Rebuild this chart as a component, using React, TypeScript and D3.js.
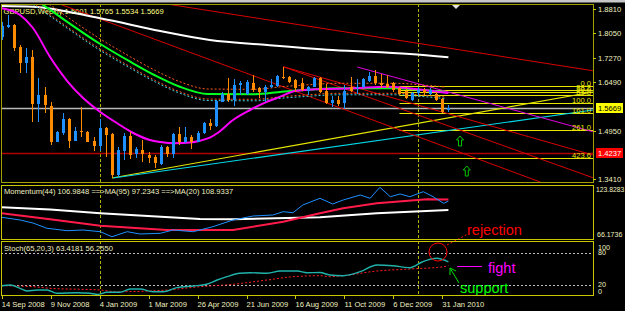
import React from "react";
import * as d3 from "d3";

// ---------- data ----------
const DATE_LABELS = ["14 Sep 2008", "9 Nov 2008", "4 Jan 2009", "1 Mar 2009", "26 Apr 2009", "21 Jun 2009", "16 Aug 2009", "11 Oct 2009", "6 Dec 2009", "31 Jan 2010"];
const DATE_INDEX = [0, 8, 16, 24, 32, 40, 48, 56, 64, 72];
const YEAR_SEPARATORS = [16, 68];

const OPEN = [1.7936, 1.8243, 1.8307, 1.7619, 1.7092, 1.7302, 1.5802, 1.6088, 1.5748, 1.4607, 1.4873, 1.5327, 1.4639, 1.4956, 1.4924, 1.4629, 1.4480, 1.5032, 1.4851, 1.3552, 1.4322, 1.4788, 1.4208, 1.4344, 1.4186, 1.4132, 1.3900, 1.4449, 1.4217, 1.4851, 1.4588, 1.4766, 1.4607, 1.4892, 1.5190, 1.5105, 1.5875, 1.6110, 1.5929, 1.6405, 1.6110, 1.6477, 1.6300, 1.6173, 1.6351, 1.6373, 1.6668, 1.6668, 1.6563, 1.6458, 1.6214, 1.6351, 1.6636, 1.6214, 1.5824, 1.5929, 1.5824, 1.6351, 1.6300, 1.6351, 1.6531, 1.6699, 1.6458, 1.6427, 1.6458, 1.6300, 1.6214, 1.5929, 1.6141, 1.6246, 1.6110, 1.6110, 1.5951, 1.5601];
const HIGH = [1.8402, 1.8624, 1.8338, 1.7673, 1.7587, 1.7514, 1.6636, 1.6351, 1.5856, 1.4946, 1.5517, 1.5349, 1.5083, 1.5698, 1.4946, 1.4747, 1.5327, 1.5083, 1.4873, 1.4449, 1.4873, 1.4924, 1.4449, 1.4661, 1.4290, 1.4186, 1.4503, 1.4471, 1.4873, 1.5073, 1.5064, 1.4820, 1.4946, 1.5232, 1.5327, 1.5929, 1.6173, 1.6636, 1.6595, 1.6531, 1.6563, 1.6722, 1.6351, 1.6405, 1.6595, 1.6722, 1.6985, 1.6699, 1.6595, 1.6617, 1.6382, 1.6668, 1.6668, 1.6427, 1.6065, 1.6065, 1.6405, 1.6668, 1.6595, 1.6617, 1.6826, 1.6880, 1.6744, 1.6722, 1.6509, 1.6351, 1.6300, 1.6192, 1.6341, 1.6309, 1.6309, 1.6183, 1.5992, 1.5765];
const LOW = [1.7831, 1.8211, 1.7492, 1.6785, 1.6785, 1.5241, 1.5241, 1.5517, 1.4503, 1.4582, 1.4820, 1.4417, 1.4629, 1.4766, 1.4588, 1.4322, 1.4322, 1.4132, 1.3447, 1.3498, 1.4027, 1.4059, 1.4081, 1.3973, 1.3922, 1.3773, 1.3869, 1.4122, 1.4081, 1.4503, 1.4566, 1.4376, 1.4588, 1.4851, 1.4978, 1.5073, 1.5866, 1.5875, 1.5748, 1.6088, 1.6088, 1.6173, 1.5983, 1.5875, 1.6300, 1.6351, 1.6595, 1.6458, 1.6192, 1.6214, 1.6088, 1.6332, 1.6141, 1.5793, 1.5717, 1.5748, 1.5644, 1.6173, 1.6110, 1.6300, 1.6490, 1.6405, 1.6300, 1.6300, 1.6192, 1.6088, 1.5961, 1.5897, 1.6056, 1.6088, 1.6088, 1.5897, 1.5526, 1.5534];
const CLOSE = [1.8284, 1.8307, 1.7587, 1.7092, 1.7302, 1.5802, 1.6088, 1.5771, 1.4607, 1.4905, 1.5327, 1.4639, 1.4946, 1.4905, 1.4607, 1.4480, 1.5032, 1.4820, 1.3552, 1.4344, 1.4788, 1.4186, 1.4366, 1.4208, 1.4100, 1.3922, 1.4449, 1.4217, 1.4851, 1.4588, 1.4766, 1.4607, 1.4892, 1.5190, 1.5114, 1.5897, 1.6110, 1.5929, 1.6405, 1.6458, 1.6490, 1.6246, 1.6173, 1.6351, 1.6405, 1.6699, 1.6636, 1.6490, 1.6300, 1.6246, 1.6351, 1.6636, 1.6192, 1.5824, 1.5929, 1.5793, 1.6214, 1.6214, 1.6351, 1.6595, 1.6699, 1.6458, 1.6405, 1.6351, 1.6246, 1.6110, 1.5983, 1.6141, 1.6246, 1.6151, 1.6246, 1.5929, 1.5558, 1.5669];

// moving averages on the price panel: [week index, price]
const MA_WHITE = [[0, 1.8909], [5.1, 1.8887], [16.1, 1.8519], [25.9, 1.8116], [34, 1.7831], [43.4, 1.7673], [54.1, 1.7514], [66.7, 1.7387], [73, 1.7283]];
const MA_MAGENTA = [[0, 1.8836], [3, 1.8624], [5.1, 1.8211], [7.9, 1.7292], [10.7, 1.6531], [13.3, 1.5992], [16.1, 1.5549], [18.8, 1.5200], [21.5, 1.4883], [24.2, 1.4661], [25.9, 1.4598], [28.3, 1.4557], [30.8, 1.4582], [32.4, 1.4639], [34, 1.4734], [35.2, 1.4874], [37.8, 1.5295], [40.6, 1.5612], [43.4, 1.5875], [45.5, 1.6034], [47.9, 1.6214], [51.2, 1.6268], [57.7, 1.6300], [63.1, 1.6351], [66.4, 1.6300], [71.3, 1.6192], [73, 1.6151]];
const MA_GREEN_IDX = [4, 6.3, 16.1, 21, 25.1, 29.1, 33.7, 41.4, 45.8, 49.6, 55, 64.3, 68.7, 72.4];
const MA_GREEN = [1.931, 1.9004, 1.7704, 1.7143, 1.6706, 1.6351, 1.6119, 1.6110, 1.6192, 1.6246, 1.6300, 1.6300, 1.6246, 1.6183];
const ENV_UPPER = [1.947, 1.9163, 1.7863, 1.7302, 1.6865, 1.6510, 1.6278, 1.6269, 1.6351, 1.6405, 1.6459, 1.6459, 1.6405, 1.6342];
const ENV_LOWER = [1.915, 1.8845, 1.7545, 1.6984, 1.6547, 1.6192, 1.5960, 1.5951, 1.6033, 1.6087, 1.6141, 1.6141, 1.6087, 1.6024];
const ENV_CYAN = [1.910, 1.8798, 1.7498, 1.6937, 1.6500, 1.6145, 1.5913, 1.5904, 1.5986, 1.6040, 1.6094, 1.6094, 1.6040, 1.5977];

// trend lines: [[idx, price], [idx, price]]
const TL_YELLOW = [[18.0, 1.3456], [96.6, 1.6183]];
const TL_CYAN = [[18.2, 1.3456], [96.6, 1.5612]];
const TL_RED = [
  [[25.9, 1.9004], [96.6, 1.6858]],
  [[9.0, 1.9004], [88.0, 1.3330]],
  [[46.0, 1.6985], [96.6, 1.3466]],
  [[46.0, 1.6985], [96.6, 1.4186]],
];
const TL_MAGENTA = [[58.1, 1.6975], [96.6, 1.4924]];

const BID = 1.5669;
const RED_LEVEL = 1.4237;
const PRICE_TICKS = [1.8810, 1.8050, 1.7270, 1.6490, 1.4950, 1.3410];

const FIB_START = 65;
const FIB_LABELS = ["0.0", "38.2", "50.0", "61.8", "100.0", "161.0", "261.0", "423.6"];
const FIB_PRICES = [1.6382, 1.6246, 1.6167, 1.6088, 1.5840, 1.5505, 1.4963, 1.4085];

const ARROWS = [[74.9, 1.4788], [76.0, 1.3837]];

// momentum panel
const MOM = [[0, 89.12], [3, 86.13], [5.1, 82.8], [7.4, 76.93], [10.7, 74.27], [13.3, 75.04], [16.1, 73.16], [18, 67.61], [20.5, 73.16], [22.6, 70.61], [25.9, 71.38], [28, 75.04], [31.3, 73.16], [34.5, 78.7], [37.8, 86.13], [41.1, 90.57], [44.3, 91.67], [46, 95.33], [47.6, 94.22], [49.2, 102.76], [52, 110.19], [54.1, 103.87], [55.8, 108.31], [58.6, 113.85], [60.2, 110.19], [61.8, 122.38], [63.5, 111.96], [65.1, 114.96], [66.7, 111.96], [68.9, 117.51], [70.5, 111.96], [72.2, 104.65], [73, 106.98]];
const MOM_MA95 = [[0, 100.21], [7.9, 97.77], [16.1, 93.56], [32.4, 87.24], [37.8, 86.91], [52, 89.12], [61.3, 93.56], [73, 97.23]];
const MOM_MA20 = [[0, 93.56], [7.9, 86.91], [16.1, 79.81], [27, 75.04], [37.8, 75.04], [46, 84.25], [52, 93.56], [55.8, 99.1], [61.3, 104.65], [69.5, 109.08], [73, 108.93]];
const MOM_MIN = 66.1736, MOM_MAX = 123.8283;

// stochastic panel
const STOCH_MAIN = [[0, 18.6], [1.4, 20], [3, 13.7], [4.1, 8.7], [5.8, 10.5], [7.4, 10.5], [9, 4.3], [12.3, 5.5], [14.4, 4.3], [15.7, 2.4], [17.2, 6.2], [19.3, 6.2], [21, 12.4], [22.6, 12.4], [24.7, 7.3], [26.4, 7.3], [28.6, 14.9], [31.3, 18.1], [33.5, 21.3], [35.2, 29.4], [36.8, 35.6], [38.9, 42], [40.6, 43.1], [43.4, 42], [45.5, 46.3], [48.3, 46.3], [49.9, 43.1], [52, 43.5], [53.6, 38.8], [55.8, 37.5], [58.6, 45], [61.3, 57.6], [63.9, 56.3], [66.7, 52.5], [68.8, 63.8], [71.1, 70.2], [73, 63.42]];
const STOCH_SIGNAL = [[0, 18.6], [5.1, 16.8], [7.9, 13.7], [16.1, 10.5], [18.8, 7.3], [24.2, 8.7], [27, 10.5], [32.4, 16.8], [37.8, 21.3], [43.4, 29.4], [47.6, 35.6], [52, 37.5], [53.6, 35.6], [55.8, 37.5], [61.3, 46.3], [66.7, 50.1], [72.2, 54.4], [73, 56.26]];
const STOCH_LEVELS = [80, 20];

const FONT = "'Liberation Sans', Arial, sans-serif";
const FRAME = "#c8c800";
const TXT = "#f0f0c0";

export default function App() {
  const x = d3.scaleLinear().domain([0, 73]).range([1.75, 448.42]);
  const yP = d3.scaleLinear().domain([1.3314, 1.8972]).range([182.5, 4]);
  const yM = d3.scaleLinear().domain([MOM_MIN, MOM_MAX]).range([238, 186]);
  const yS = d3.scaleLinear().domain([0, 100]).range([295.6, 242.5]);

  const lineP = d3.line<number[]>().x((d) => x(d[0])).y((d) => yP(d[1]));
  const smoothP = d3.line<number[]>().x((d) => x(d[0])).y((d) => yP(d[1])).curve(d3.curveMonotoneX);
  const lineM = d3.line<number[]>().x((d) => x(d[0])).y((d) => yM(d[1]));
  const lineS = d3.line<number[]>().x((d) => x(d[0])).y((d) => yS(d[1])).curve(d3.curveMonotoneX);

  const zip = (vals: number[]) => vals.map((v, k) => [MA_GREEN_IDX[k], v]);
  const right = 593.3;

  const candles = OPEN.map((o, i) => {
    const c = CLOSE[i];
    const bull = c >= o;
    const col = bull ? "#1e90ff" : "#ff8c00";
    const cx = Math.round(x(i));
    const top = Math.round(yP(Math.max(o, c)));
    const bot = Math.round(yP(Math.min(o, c)));
    return (
      <g key={i}>
        <line x1={cx + 0.5} x2={cx + 0.5} y1={Math.round(yP(HIGH[i]))} y2={Math.round(yP(LOW[i]))} stroke={col} strokeWidth={1} />
        <rect x={cx - 1} y={top} width={3} height={Math.max(1, bot - top)} fill={col} />
      </g>
    );
  });

  const arrowPath = (cx: number, ty: number) =>
    `M${cx},${ty} L${cx + 3.5},${ty + 4} L${cx + 1.5},${ty + 4} L${cx + 1.5},${ty + 10} L${cx - 1.5},${ty + 10} L${cx - 1.5},${ty + 4} L${cx - 3.5},${ty + 4} Z`;

  return (
    <div style={{ position: "absolute", left: 0, top: 0 }}>
      <svg width={625} height={311} style={{ display: "block", background: "#000" }} fontFamily={FONT}>
        <defs>
          <clipPath id="cMain"><rect x={1.5} y={4.8} width={591.5} height={177.5} /></clipPath>
          <clipPath id="cMom"><rect x={1.5} y={185.5} width={591.5} height={53.5} /></clipPath>
          <clipPath id="cSto"><rect x={1.5} y={241.5} width={591.5} height={54} /></clipPath>
        </defs>
        <rect x={0} y={0} width={625} height={311} fill="#000" />
        <rect x={0} y={0} width={625} height={2.5} fill="#c8c8c8" />

        {/* title */}
        <text x={3.5} y={14} fontSize={7.6} fill="#ffff80">GBPUSD,Weekly  1.5601 1.5765 1.5534 1.5669</text>

        {/* main panel */}
        <g clipPath="url(#cMain)">
          {YEAR_SEPARATORS.map((s) => (
            <line key={s} x1={Math.round(x(s)) + 0.5} x2={Math.round(x(s)) + 0.5} y1={4} y2={183} stroke="#b0b000" strokeDasharray="3,2" />
          ))}
          <line x1={0} x2={right} y1={Math.round(yP(BID)) + 0.5} y2={Math.round(yP(BID)) + 0.5} stroke="#b8b8b8" strokeWidth={1.3} />
          <line x1={0} x2={right} y1={Math.round(yP(RED_LEVEL)) + 0.5} y2={Math.round(yP(RED_LEVEL)) + 0.5} stroke="#b00000" strokeWidth={1.3} />
          {FIB_PRICES.map((p, k) => (
            <line key={k} x1={x(FIB_START)} x2={right} y1={Math.round(yP(p)) + 0.5} y2={Math.round(yP(p)) + 0.5} stroke="#e6e600" strokeWidth={1} />
          ))}
          <path d={lineP(TL_YELLOW) || ""} stroke="#e6e600" strokeWidth={1.2} fill="none" />
          <path d={lineP(TL_CYAN) || ""} stroke="#00d8e8" strokeWidth={1.2} fill="none" />
          {TL_RED.map((t, k) => (
            <path key={k} d={lineP(t) || ""} stroke="#d80000" strokeWidth={1} fill="none" />
          ))}
          <path d={lineP(TL_MAGENTA) || ""} stroke="#e000e0" strokeWidth={1} fill="none" />
          <path d={smoothP(MA_WHITE) || ""} stroke="#ffffff" strokeWidth={2} fill="none" />
          <path d={smoothP(zip(ENV_UPPER)) || ""} stroke="#ff5a1e" strokeWidth={1} strokeDasharray="2,2" fill="none" />
          <path d={smoothP(zip(ENV_LOWER)) || ""} stroke="#ff5a1e" strokeWidth={1} strokeDasharray="2,2" fill="none" />
          <path d={smoothP(zip(ENV_CYAN)) || ""} stroke="#40d0e0" strokeWidth={1} strokeDasharray="2,2" fill="none" />
          <path d={smoothP(zip(MA_GREEN)) || ""} stroke="#00ff20" strokeWidth={2} fill="none" />
          <path d={smoothP(MA_MAGENTA) || ""} stroke="#ff00ff" strokeWidth={2} fill="none" />
          {candles}
          {ARROWS.map((a, k) => (
            <path key={k} d={arrowPath(x(a[0]), yP(a[1]))} stroke="#00c800" strokeWidth={1} fill="none" />
          ))}
          <path d="M452,5 L460,5 L456,9 Z" fill="#e0e0e0" />
        </g>
        {FIB_LABELS.map((l, k) => (
          <text key={k} x={591} y={Math.round(yP(FIB_PRICES[k])) - 0.5} fontSize={7.6} fill="#e6e600" textAnchor="end">{l}</text>
        ))}

        {/* momentum panel */}
        <g clipPath="url(#cMom)">
          {YEAR_SEPARATORS.map((s) => (
            <line key={s} x1={Math.round(x(s)) + 0.5} x2={Math.round(x(s)) + 0.5} y1={185} y2={240} stroke="#b0b000" strokeDasharray="3,2" />
          ))}
          <path d={lineM(MOM_MA95) || ""} stroke="#ffffff" strokeWidth={2} fill="none" />
          <path d={lineM(MOM_MA20) || ""} stroke="#ff1a4a" strokeWidth={2} fill="none" />
          <path d={lineM(MOM) || ""} stroke="#1e90ff" strokeWidth={1} fill="none" />
        </g>
        <text x={4} y={194} fontSize={7.6} fill={TXT}>Momentum(44) 106.9848 ==&gt;MA(95) 97.2343 ==&gt;MA(20) 108.9337</text>

        {/* stochastic panel */}
        <g clipPath="url(#cSto)">
          {YEAR_SEPARATORS.map((s) => (
            <line key={s} x1={Math.round(x(s)) + 0.5} x2={Math.round(x(s)) + 0.5} y1={241} y2={296} stroke="#b0b000" strokeDasharray="3,2" />
          ))}
          {STOCH_LEVELS.map((l) => (
            <line key={l} x1={1} x2={right} y1={Math.round(yS(l)) + 0.5} y2={Math.round(yS(l)) + 0.5} stroke="#c0c0c0" strokeDasharray="2,2" />
          ))}
          <path d={lineS(STOCH_SIGNAL) || ""} stroke="#ff2020" strokeWidth={1} strokeDasharray="2,2" fill="none" />
          <path d={lineS(STOCH_MAIN) || ""} stroke="#20b2aa" strokeWidth={1.4} fill="none" />
        </g>
        <text x={4} y={251} fontSize={7.6} fill={TXT}>Stoch(65,20,3) 63.4181 56.2550</text>

        {/* annotations */}
        <circle cx={438} cy={252} r={9} stroke="#ff0000" strokeWidth={1} fill="none" />
        <line x1={447} y1={245} x2={467} y2={234.5} stroke="#ff0000" strokeDasharray="2,2" />
        <text x={467} y={235} fontSize={14.5} fill="#ff0000">rejection</text>
        <line x1={457} y1={266.5} x2={482} y2={266.5} stroke="#ff00ff" strokeWidth={1} />
        <text x={488} y={272.5} fontSize={14.5} fill="#ff00ff">fight</text>
        <line x1={459} y1={283} x2={450} y2={268} stroke="#00e000" strokeWidth={1} />
        <path d="M450,268 L450,275 M450,268 L456,271" stroke="#00e000" strokeWidth={1} fill="none" />
        <text x={460} y={292.5} fontSize={14.5} fill="#00ff00">support</text>

        {/* frames */}
        <g fill="none" stroke={FRAME} strokeWidth={1} shapeRendering="crispEdges">
          <rect x={1.5} y={4.5} width={591.5} height={178} stroke="#a0a000" />
          <rect x={1.5} y={185.5} width={591.5} height={53.5} />
          <rect x={1.5} y={241.5} width={591.5} height={54} />
        </g>

        {/* price axis */}
        {PRICE_TICKS.map((p) => (
          <g key={p}>
            <line x1={593} x2={596} y1={Math.round(yP(p)) + 0.5} y2={Math.round(yP(p)) + 0.5} stroke={FRAME} />
            <text x={598} y={yP(p) + 3} fontSize={7.6} fill={TXT}>{p.toFixed(4)}</text>
          </g>
        ))}
        <rect x={596} y={Math.round(yP(BID)) - 5} width={27} height={10} fill="#ffff00" />
        <text x={598} y={yP(BID) + 3} fontSize={7.6} fill="#000">{BID.toFixed(4)}</text>
        <rect x={596} y={Math.round(yP(RED_LEVEL)) - 5} width={27} height={10} fill="#ff0000" />
        <text x={598} y={yP(RED_LEVEL) + 3} fontSize={7.6} fill="#fff">{RED_LEVEL.toFixed(4)}</text>

        <text x={596} y={192} fontSize={6.8} fill={TXT}>{MOM_MAX.toFixed(4)}</text>
        <text x={597} y={237} fontSize={7} fill={TXT}>{MOM_MIN.toFixed(4)}</text>
        <text x={598} y={250} fontSize={7.2} fill={TXT}>100</text>
        <text x={598} y={255} fontSize={7.2} fill={TXT}>80</text>
        <text x={598} y={287} fontSize={7.2} fill={TXT}>20</text>
        <text x={598} y={294} fontSize={7.2} fill={TXT}>0</text>

        {/* time axis */}
        {DATE_INDEX.map((i, k) => (
          <g key={i}>
            <line x1={Math.round(x(i)) + 0.5} x2={Math.round(x(i)) + 0.5} y1={296} y2={299} stroke={FRAME} />
            <text x={x(i)} y={307} fontSize={7.6} fill={TXT}>{DATE_LABELS[k]}</text>
          </g>
        ))}
      </svg>
    </div>
  );
}
